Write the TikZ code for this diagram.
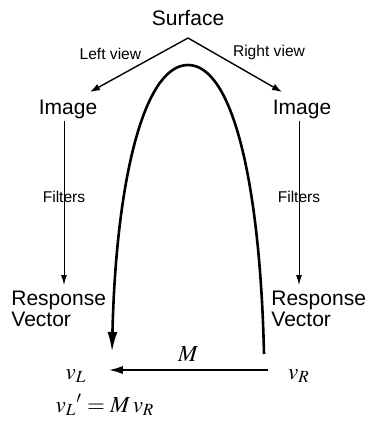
\documentclass[tikz,border=0pt]{standalone}
\usepackage{mathptmx}
\usepackage{fontspec}
\setmainfont{Liberation Sans}
\usetikzlibrary{arrows.meta,positioning,calc}
\tikzset{
  bigtext/.style={font=\fontsize{10.5}{10.5}\selectfont, inner sep=1pt, align=left},
  smalltext/.style={font=\fontsize{7.8}{9}\selectfont, inner sep=1pt},
  mathtext/.style={font=\fontsize{11.5}{13}\selectfont, inner sep=1pt},
  viewarrow/.style={-{Latex[length=5pt,width=3.5pt]}, line width=0.7pt},
  thinarrow/.style={-{Latex[length=5pt,width=3pt]}, line width=0.5pt},
  bigarrow/.style={-{Latex[length=10pt,width=5pt]}, line width=1.3pt},
  marrow/.style={-{Latex[length=7pt,width=4pt]}, line width=1pt}
}
\begin{document}
\begin{tikzpicture}[x=0.5pt,y=-0.5pt]
  \useasboundingbox (0,0) rectangle (369,421);
  % surface and the two views
  \node[bigtext] (surface) at (188,18) {Surface};
  \coordinate (apex) at (188,38);
  \node[bigtext] (imgL) at (68,109) {Image};
  \node[bigtext] (imgR) at (302,109) {Image};
  \coordinate (tipL) at (90,92);
  \coordinate (tipR) at (282,92);
  \draw[viewarrow] (apex) -- node[smalltext, pos=0.45, above left] {Left view} (tipL);
  \draw[viewarrow] (apex) -- node[smalltext, pos=0.45, above right] {Right view} (tipR);
  % filtering
  \node[bigtext, anchor=north west] (respL) at (9,289) {Response\\Vector};
  \node[bigtext, anchor=north west] (respR) at (269,289) {Response\\Vector};
  \draw[thinarrow, shorten >=2pt] ([xshift=-2pt]imgL.south) -- node[smalltext, pos=0.45] {Filters} ([xshift=-2pt]imgL.south |- respL.north);
  \draw[thinarrow, shorten >=2pt] ([xshift=-1.5pt]imgR.south) -- node[smalltext, pos=0.45] {Filters} ([xshift=-1.5pt]imgR.south |- respR.north);
  % vectors and the mapping
  \node[mathtext] (vL) at (76,376) {$v_L$};
  \node[mathtext] (vR) at (299,376) {$v_R$};
  \coordinate (arcR) at (264,354);
  \coordinate (arcTop) at (188,65);
  \coordinate (arcL) at (112,352);
  \draw[bigarrow] (arcR) .. controls (260,180) and (232,65) .. (arcTop)
    .. controls (144,65) and (116,180) .. (arcL);
  \draw[marrow] ([xshift=-9pt,yshift=3pt]vR.west) -- node[mathtext, above=3pt] {$M$} ([xshift=10pt,yshift=3pt]vL.east);
  \node[mathtext] (eq) at (105,405) {$v_L{}' = M\,v_R$};
\end{tikzpicture}
\end{document}
